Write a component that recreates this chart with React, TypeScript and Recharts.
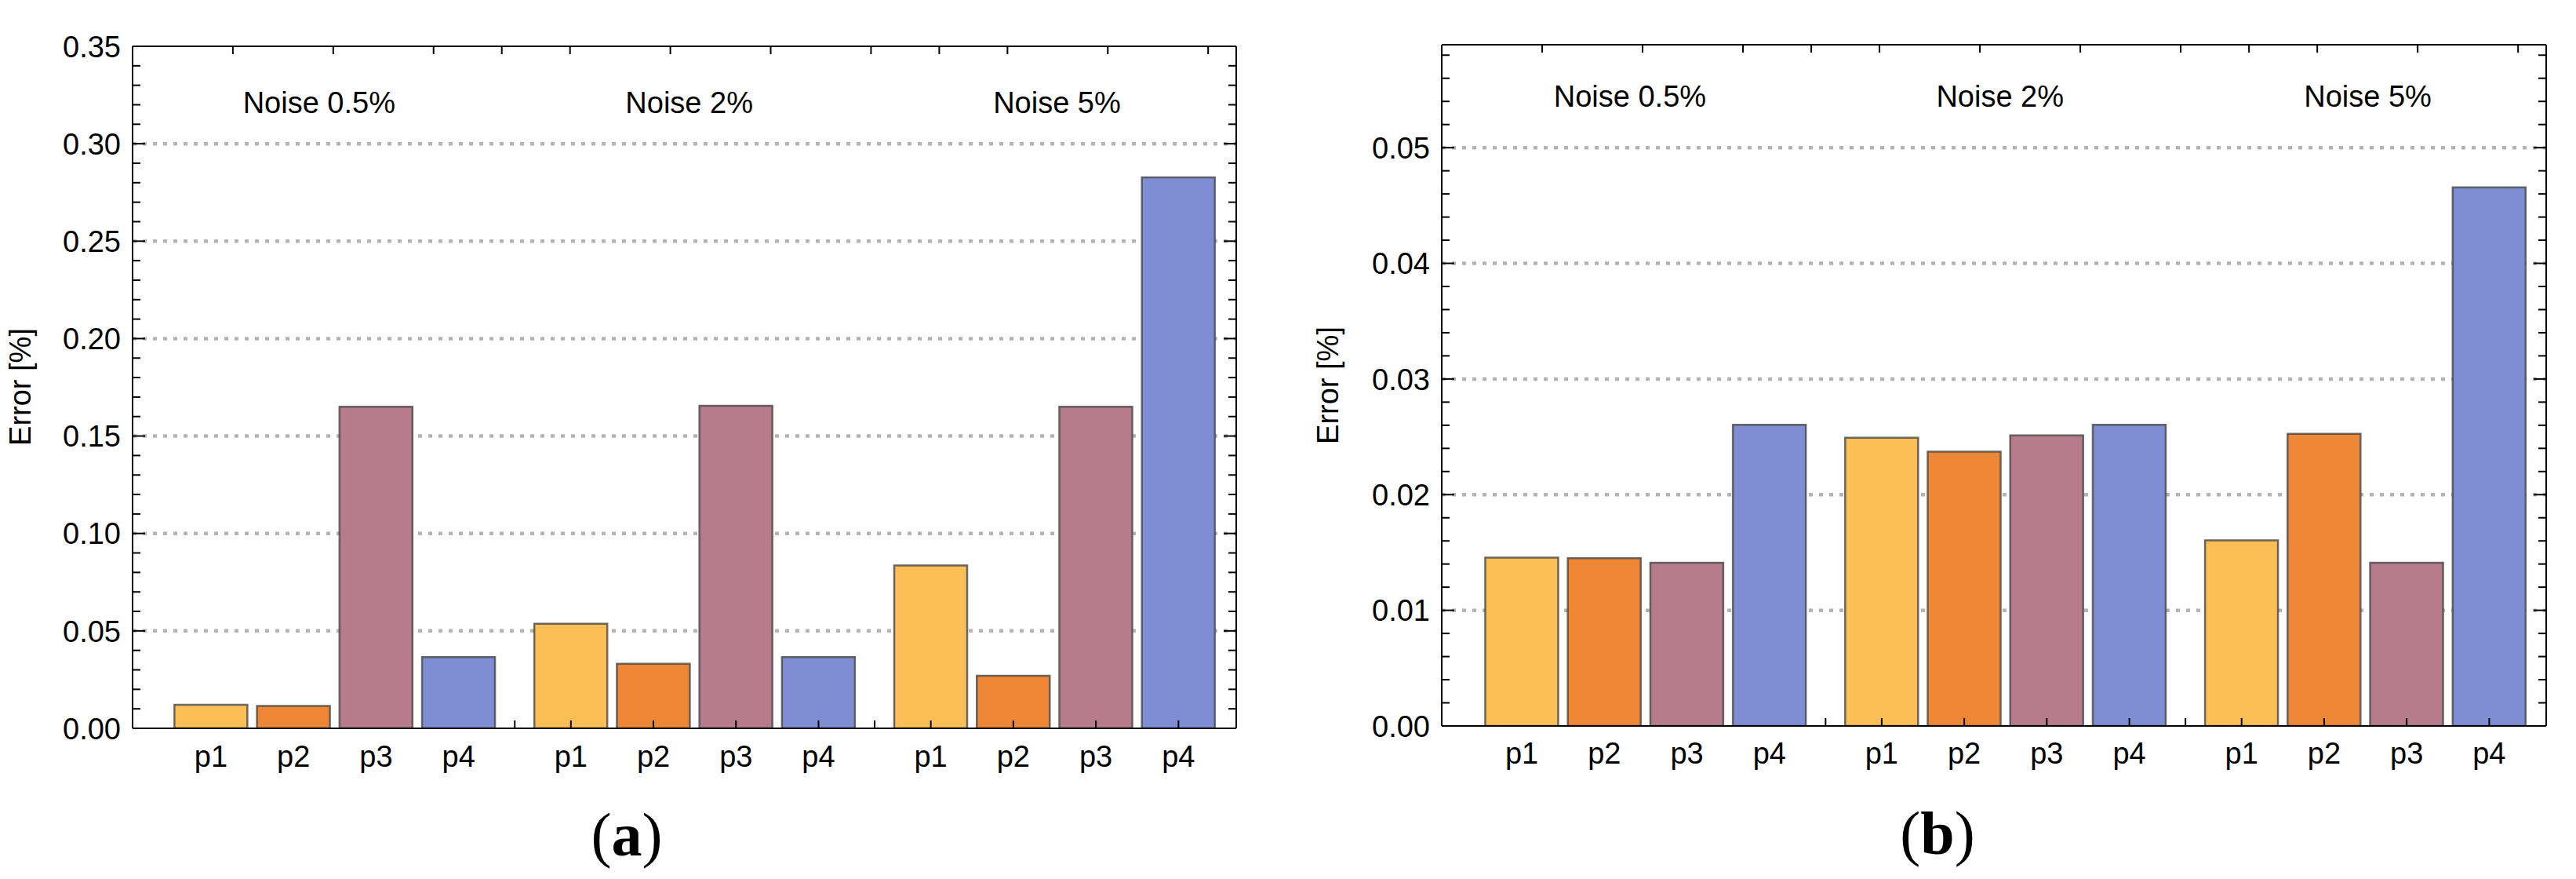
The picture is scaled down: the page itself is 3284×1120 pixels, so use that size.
import { BarChart, Bar, XAxis, YAxis, CartesianGrid, Cell, ReferenceDot } from 'recharts'

const PARAMS = ['p1', 'p2', 'p3', 'p4']
const NOISE_LABELS = ['Noise 0.5%', 'Noise 2%', 'Noise 5%']
const COLORS = ['#fbbf55', '#ee8735', '#b67b8c', '#7f8ed4']

// panel (a)
const ERR_A_NOISE_05 = [0.0121, 0.0115, 0.165, 0.0366]
const ERR_A_NOISE_2 = [0.0537, 0.0331, 0.1655, 0.0366]
const ERR_A_NOISE_5 = [0.0836, 0.027, 0.165, 0.2827]
const Y_TICKS_A = [0, 0.05, 0.1, 0.15, 0.2, 0.25, 0.3, 0.35]

// panel (b)
const ERR_B_NOISE_05 = [0.01455, 0.0145, 0.01412, 0.02604]
const ERR_B_NOISE_2 = [0.02492, 0.02371, 0.02512, 0.02604]
const ERR_B_NOISE_5 = [0.01605, 0.02526, 0.01412, 0.04657]
const Y_TICKS_B = [0, 0.01, 0.02, 0.03, 0.04, 0.05]

// layout
const GROUP_STEP = 4.36
const LABEL_NUDGE = [-20, -7, 3]
const FONT = '"Liberation Sans", Arial, sans-serif'
const SERIF = '"Liberation Serif", "Times New Roman", serif'

type Row = { slot: number; value: number; param: string; group: number }

const buildRows = (groups: number[][]): Row[] =>
  groups.flatMap((vals, g) =>
    vals.map((v, i) => ({ slot: g * GROUP_STEP + i, value: v, param: PARAMS[i], group: g }))
  )

const gapSlots = [0, 1].map((g) => g * GROUP_STEP + 3 + (GROUP_STEP - 3) / 2)

const near = (a: number, b: number) => Math.abs(a - b) < 1e-6

interface PanelProps {
  groups: number[][]
  majors: number[]
  minorStep: number
  yMax: number
  xDomain: [number, number]
  width: number
  margin: { top: number; right: number; left: number; bottom: number }
  yAxisWidth: number
  xAxisHeight: number
  labelY: number
  pLabelOffset: number
}

function Panel({
  groups,
  majors,
  minorStep,
  yMax,
  xDomain,
  width,
  margin,
  yAxisWidth,
  xAxisHeight,
  labelY,
  pLabelOffset,
}: PanelProps) {
  const rows = buildRows(groups)
  const slots = rows.map((r) => r.slot)
  const xTicks = [...slots, ...gapSlots].sort((a, b) => a - b)
  const yTicks: number[] = []
  for (let k = 0; k * minorStep <= yMax + 1e-9; k++) yTicks.push(+(k * minorStep).toFixed(6))
  const gridValues = majors.filter((v) => v > 0 && !near(v, yMax))

  const LeftTick = (p: any) => {
    const v = p.payload.value
    const major = majors.some((m) => near(m, v))
    return (
      <g>
        <line x1={p.x} x2={p.x + (major ? 16 : 10)} y1={p.y} y2={p.y} stroke="#000" strokeWidth={2} />
        {major && (
          <text x={p.x - 15} y={p.y} dy="0.36em" textAnchor="end" fontFamily={FONT} fontSize={38} fill="#000">
            {v.toFixed(2)}
          </text>
        )}
      </g>
    )
  }

  const RightTick = (p: any) => {
    const v = p.payload.value
    const major = majors.some((m) => near(m, v))
    return <line x1={p.x} x2={p.x - (major ? 16 : 10)} y1={p.y} y2={p.y} stroke="#000" strokeWidth={2} />
  }

  const TopTick = (p: any) => (
    <line x1={p.x} x2={p.x} y1={p.y} y2={p.y + 10} stroke="#000" strokeWidth={2} />
  )

  const BottomTick = (p: any) => {
    const v = p.payload.value
    const row = rows.find((r) => near(r.slot, v))
    const showLine = !row || row.group > 0
    return (
      <g>
        {showLine && <line x1={p.x} x2={p.x} y1={p.y} y2={p.y - 10} stroke="#000" strokeWidth={2} />}
        {row && (
          <text x={p.x} y={p.y + pLabelOffset} textAnchor="middle" fontFamily={FONT} fontSize={38} fill="#000">
            {row.param}
          </text>
        )}
      </g>
    )
  }

  return (
    <BarChart width={width} height={1120} data={rows} margin={margin}>
      <CartesianGrid
        yAxisId="left"
        xAxisId="bottom"
        vertical={false}
        horizontalValues={gridValues}
        stroke="#b4b4b4"
        strokeWidth={4.5}
        strokeDasharray="5 8"
      />
      <XAxis
        xAxisId="bottom"
        dataKey="slot"
        type="number"
        domain={xDomain}
        allowDataOverflow
        ticks={xTicks}
        interval={0}
        height={xAxisHeight}
        tickSize={0}
        tickMargin={0}
        tick={BottomTick}
        tickLine={false}
        axisLine={{ stroke: '#000', strokeWidth: 2 }}
      />
      <XAxis
        xAxisId="top"
        orientation="top"
        type="number"
        domain={xDomain}
        allowDataOverflow
        ticks={xTicks}
        interval={0}
        height={1}
        tickSize={0}
        tickMargin={0}
        tick={TopTick}
        tickLine={false}
        axisLine={{ stroke: '#000', strokeWidth: 2 }}
      />
      <YAxis
        yAxisId="left"
        type="number"
        domain={[0, yMax]}
        allowDataOverflow
        ticks={yTicks}
        interval={0}
        width={yAxisWidth}
        tickSize={0}
        tickMargin={0}
        tick={LeftTick}
        tickLine={false}
        axisLine={{ stroke: '#000', strokeWidth: 2 }}
      />
      <YAxis
        yAxisId="right"
        orientation="right"
        type="number"
        domain={[0, yMax]}
        allowDataOverflow
        ticks={yTicks}
        interval={0}
        width={1}
        tickSize={0}
        tickMargin={0}
        tick={RightTick}
        tickLine={false}
        axisLine={{ stroke: '#000', strokeWidth: 2 }}
      />
      <Bar
        dataKey="value"
        xAxisId="bottom"
        yAxisId="left"
        barSize={93}
        stroke="#474747"
        strokeWidth={2.5}
        strokeOpacity={0.8}
        isAnimationActive={false}
      >
        {rows.map((r, i) => (
          <Cell key={`cell-${i}`} fill={COLORS[PARAMS.indexOf(r.param)]} />
        ))}
      </Bar>
      {NOISE_LABELS.map((label, g) => (
        <ReferenceDot
          key={label}
          xAxisId="bottom"
          yAxisId="left"
          x={g * GROUP_STEP + 1.5}
          y={labelY}
          r={0}
          ifOverflow="visible"
          shape={(p: any) => (
            <text x={p.cx + LABEL_NUDGE[g]} y={p.cy} textAnchor="middle" fontFamily={FONT} fontSize={38} fill="#000">
              {label}
            </text>
          )}
        />
      ))}
    </BarChart>
  )
}

export default function App() {
  return (
    <div style={{ position: 'absolute', left: 0, top: 0, width: 3284, height: 1120, background: '#fff' }}>
      <div style={{ position: 'absolute', left: 0, top: 0 }}>
        <Panel
          groups={[ERR_A_NOISE_05, ERR_A_NOISE_2, ERR_A_NOISE_5]}
          majors={Y_TICKS_A}
          minorStep={0.01}
          yMax={0.35}
          xDomain={[-0.95, 12.42]}
          width={1640}
          margin={{ top: 58, right: 63, left: 0, bottom: 0 }}
          yAxisWidth={169}
          xAxisHeight={192}
          labelY={0.3158}
          pLabelOffset={49}
        />
      </div>
      <div style={{ position: 'absolute', left: 1640, top: 0 }}>
        <Panel
          groups={[ERR_B_NOISE_05, ERR_B_NOISE_2, ERR_B_NOISE_5]}
          majors={Y_TICKS_B}
          minorStep={0.002}
          yMax={0.0589}
          xDomain={[-0.97, 12.41]}
          width={1644}
          margin={{ top: 56, right: 37, left: 0, bottom: 0 }}
          yAxisWidth={198}
          xAxisHeight={195}
          labelY={0.05356}
          pLabelOffset={48}
        />
      </div>
      <svg width={3284} height={1120} style={{ position: 'absolute', left: 0, top: 0, pointerEvents: 'none' }}>
        <text x={39} y={493} transform="rotate(-90 39 493)" textAnchor="middle" fontFamily={FONT} fontSize={38} fill="#000">
          Error [%]
        </text>
        <text x={1706} y={491} transform="rotate(-90 1706 491)" textAnchor="middle" fontFamily={FONT} fontSize={38} fill="#000">
          Error [%]
        </text>
        <text x={799} y={1090} textAnchor="middle" fontFamily={SERIF} fontSize={78} fill="#000">
          (<tspan fontWeight="bold">a</tspan>)
        </text>
        <text x={2470} y={1088} textAnchor="middle" fontFamily={SERIF} fontSize={78} fill="#000">
          (<tspan fontWeight="bold">b</tspan>)
        </text>
      </svg>
    </div>
  )
}
